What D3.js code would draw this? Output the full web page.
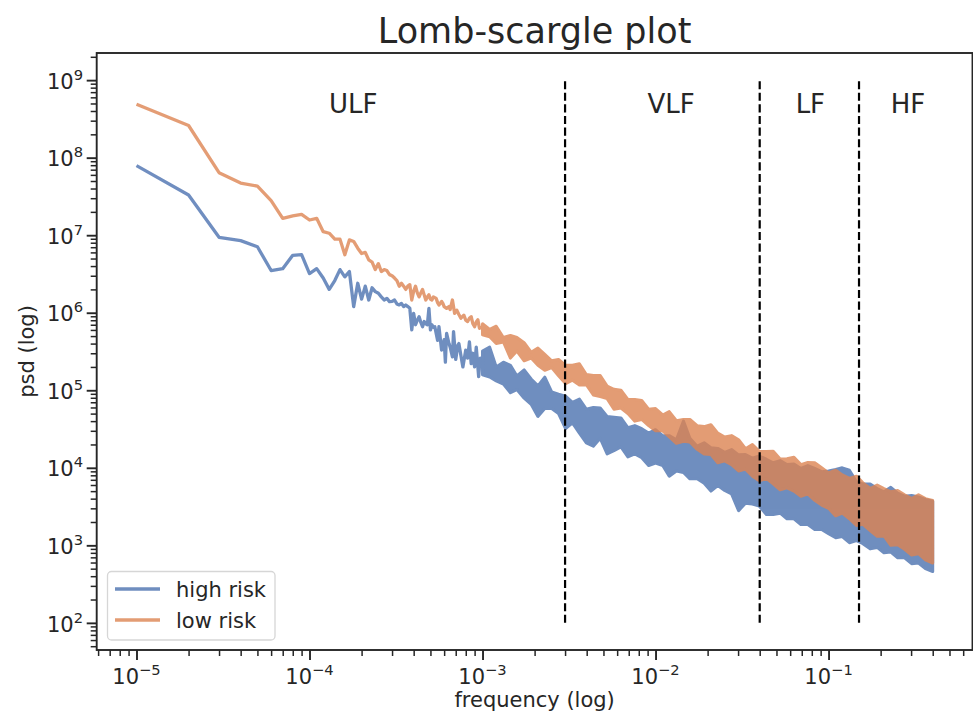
<!DOCTYPE html>
<html><head><meta charset="utf-8">
<script src="https://cdn.jsdelivr.net/npm/d3@7/dist/d3.min.js"></script>
<style>
body{margin:0;background:#fff}
svg{display:block}
text{font-family:"DejaVu Sans",sans-serif;fill:#262626}
</style>
</head><body>
<svg id="c" width="973" height="717"></svg>
<script>
// ---------------- data ----------------
const chartTitle = "Lomb-scargle plot";
const xLabel = "frequency (log)";
const yLabel = "psd (log)";
const seriesNames = ["high risk", "low risk"];
const freqStep = 1e-5; // frequency resolution (Hz per index)

// low-frequency part: individual periodogram points (index k -> k * 1e-5)
const highRiskK = [1,2,3,4,5,6,7,8,9,10,11,12,13,14,15,16,17,18,19,20,21,22,23,24,25,26,27,28,29,30,31,32,33,34,35,36,37,38,39,40,41,42,43,44,45,46,47,48,49,50,51,52,53,55,56,58,60,61,62,64,65,67,68,70,72,73,75,77,80,82,84,86,88,90,92,95,97,99];
const highRiskPsd = [7.9e7,3.3e7,9.4e6,8.5e6,7.1e6,3.5e6,3.7e6,5.5e6,5.6e6,3.2e6,
  3.7e6,2.8e6,2.0e6,2.6e6,3.6e6,2.9e6,3.4e6,1.2e6,2.4e6,1.5e6,
  2.2e6,1.46e6,2.1e6,1.87e6,1.78e6,1.6e6,1.46e6,1.53e6,1.39e6,1.4e6,
  1.46e6,1.3e6,1.26e6,1.32e6,1.2e6,1.26e6,1.2e6,1.14e6,6.0e5,9.8e5,
  7.0e5,8.0e5,8.9e5,7.5e5,6.6e5,7.7e5,7.2e5,7.0e5,1.14e6,6.0e5,
  7.0e5,6.5e5,6.6e5,4.4e5,6.6e5,3.3e5,4.5e5,2.3e5,5.4e5,4.0e5,3.6e5,2.7e5,5.7e5,2.5e5,3.8e5,4.0e5,2.8e5,2.0e5,3.3e5,2.6e5,4.2e5,2.2e5,3.0e5,2.0e5,3.6e5,1.5e5,2.6e5,1.9e5];
const lowRiskK = [1,2,3,4,5,6,7,8,9,10,11,12,13,14,15,16,17,18,19,20,21,22,23,24,25,26,27,28,29,30,31,32,33,34,35,36,37,38,39,40,41,42,43,44,45,46,47,48,49,50,51,52,54,55,56,58,59,60,62,64,65,67,69,71,73,75,78,80,82,84,86,88,90,92,94,96,98];
const lowRiskPsd = [4.9e8,2.6e8,6.4e7,4.7e7,4.3e7,2.8e7,1.65e7,1.77e7,1.86e7,1.57e7,
  1.65e7,1.11e7,1.06e7,8.9e6,8.9e6,5.6e6,8.7e6,8.3e6,6.8e6,5.8e6,
  6.0e6,4.8e6,4.5e6,3.6e6,4.3e6,3.4e6,3.6e6,3.5e6,3.1e6,3.0e6,
  2.8e6,2.6e6,2.2e6,2.4e6,2.2e6,2.0e6,2.2e6,2.3e6,1.46e6,1.9e6,
  2.2e6,1.8e6,1.6e6,1.8e6,2.0e6,1.7e6,1.46e6,1.6e6,1.7e6,1.5e6,
  1.46e6,1.6e6,1.53e6,1.35e6,1.26e6,1.4e6,1.32e6,1.2e6,1.14e6,1.2e6,1.1e6,1.46e6,9.8e5,1.08e6,9.5e5,8.5e5,9.3e5,8.0e5,7.7e5,8.5e5,8.9e5,7.2e5,6.6e5,7.6e5,8.1e5,6.3e5,6.8e5];

// dense part (f >= 1e-3): per-bin max / min of the periodogram
const bandFreq = [0.001,0.0011,0.0012,0.00132,0.00145,0.00158,0.00174,0.00191,0.00209,0.00229,0.00251,0.00275,0.00302,0.00331,0.00363,0.00398,0.00437,0.00479,0.00525,0.00575,0.00631,0.00692,0.00759,0.00832,0.00912,
  0.01,0.011,0.012,0.0132,0.0145,0.0158,0.0174,0.0191,0.0209,0.0229,0.0251,0.0275,0.0302,0.0331,0.0363,0.0398,0.0437,0.0479,0.0525,0.0575,0.0631,0.0692,0.0759,0.0832,0.0912,
  0.1,0.11,0.12,0.132,0.145,0.158,0.174,0.191,0.209,0.229,0.251,0.275,0.302,0.331,0.363,0.4];
const highRiskMax = [3.2e5,3.6e5,2.0e5,2.3e5,2.1e5,1.53e5,1.83e5,1.4e5,1.14e5,1.48e5,9.5e4,8.9e4,8.4e4,7.0e4,7.7e4,5.7e4,6.0e4,5.9e4,4.6e4,4.5e4,4.4e4,3.3e4,3.5e4,3.2e4,2.8e4,
  3.1e4,2.6e4,2.6e4,2.3e4,4.0e4,2.4e4,1.9e4,2.1e4,1.82e4,1.78e4,1.58e4,1.72e4,1.47e4,1.48e4,1.33e4,1.42e4,1.29e4,1.16e4,1.24e4,1.1e4,1.12e4,9.8e3,1.07e4,9.8e3,8.9e3,
  9.1e3,9.5e3,1.0e4,9.3e3,6.6e3,6.2e3,6.2e3,5.4e3,4.9e3,5.6e3,4.7e3,4.3e3,4.4e3,4.2e3,3.9e3,3.7e3];
const highRiskMin = [1.58e5,1.48e5,1.32e5,1.2e5,9.3e4,1.02e5,7.9e4,6.6e4,4.6e4,5.8e4,5.8e4,5.0e4,3.2e4,3.8e4,2.8e4,2.1e4,1.9e4,2.4e4,1.51e4,1.66e4,1.86e4,1.38e4,1.51e4,1.35e4,1.07e4,
  1.15e4,1.07e4,7.8e3,9.1e3,8.7e3,7.2e3,7.2e3,6.3e3,5.0e3,5.9e3,5.1e3,4.6e3,2.8e3,3.5e3,3.4e3,3.2e3,2.5e3,2.5e3,2.6e3,2.2e3,2.2e3,1.85e3,1.85e3,1.6e3,1.6e3,
  1.41e3,1.25e3,1.3e3,1.08e3,1.15e3,1.05e3,9.0e2,9.4e2,8.0e2,8.2e2,6.9e2,6.9e2,5.8e2,5.9e2,5.0e2,4.6e2];
const lowRiskMax = [7.2e5,6.1e5,6.7e5,4.8e5,5.1e5,4.8e5,4.1e5,3.1e5,3.5e5,2.9e5,2.4e5,2.5e5,2.1e5,2.1e5,2.2e5,1.6e5,1.55e5,1.55e5,1.13e5,1.03e5,1.0e5,7.6e4,7.6e4,7.4e4,5.7e4,
  5.8e4,4.8e4,5.3e4,4.05e4,4.2e4,4.2e4,3.5e4,3.4e4,3.6e4,2.8e4,2.5e4,2.6e4,2.3e4,1.76e4,2.0e4,1.63e4,1.62e4,1.63e4,1.3e4,1.31e4,1.37e4,1.1e4,1.17e4,1.16e4,1.0e4,
  8.6e3,9.3e3,8.1e3,7.3e3,7.8e3,6.4e3,5.4e3,6.0e3,5.4e3,4.9e3,5.1e3,4.5e3,4.0e3,4.5e3,4.0e3,3.8e3];
const lowRiskMin = [5.2e5,4.9e5,4.0e5,4.2e5,2.6e5,3.2e5,2.4e5,2.6e5,2.1e5,1.81e5,1.96e5,1.54e5,1.22e5,1.35e5,1.17e5,1.18e5,8.7e4,8.3e4,7.8e4,5.7e4,5.9e4,5.0e4,4.0e4,4.2e4,3.5e4,
  3.0e4,3.0e4,2.5e4,2.07e4,2.2e4,2.15e4,1.73e4,1.51e4,1.48e4,1.16e4,1.23e4,1.1e4,9.1e3,9.6e3,7.8e3,6.8e3,7.3e3,6.2e3,5.2e3,5.5e3,5.0e3,4.3e3,4.6e3,3.8e3,3.3e3,
  3.0e3,2.4e3,2.6e3,2.2e3,1.8e3,1.87e3,1.55e3,1.31e3,1.32e3,1.0e3,1.02e3,8.9e2,7.5e2,7.8e2,6.5e2,5.9e2];

// frequency band boundaries and labels
const bandEdges = [0.003, 0.04, 0.15];
const bandLineRange = [1e2, 1e9];
const bandNames = ["ULF", "VLF", "LF", "HF"];
const bandLabelFreq = [1.79e-4, 0.0123, 0.0785, 0.288];
const bandLabelPsd = 3.8e8;

const xMajor = [1e-5, 1e-4, 1e-3, 1e-2, 1e-1];
const xMajorExp = ["−5", "−4", "−3", "−2", "−1"];
const yMajor = [1e2, 1e3, 1e4, 1e5, 1e6, 1e7, 1e8, 1e9];
const yMajorExp = ["2", "3", "4", "5", "6", "7", "8", "9"];

const colors = ["#4C72B0", "#DD8452"];

// ---------------- drawing ----------------
const L = 96.7, R = 972.5, T = 53, B = 650;
const svg = d3.select("#c");
const x = d3.scaleLog().domain([Math.pow(10, -5.23), Math.pow(10, -0.168)]).range([L, R]);
const y = d3.scaleLog().domain([Math.pow(10, 1.65), Math.pow(10, 9.35)]).range([B, T]);

svg.append("defs").append("clipPath").attr("id", "clip")
  .append("rect").attr("x", L).attr("y", T).attr("width", R - L).attr("height", B - T);

const plot = svg.append("g").attr("clip-path", "url(#clip)");

function drawSeries(ks, psd, fb, vmax, vmin, color) {
  const g = plot.append("g").attr("opacity", 0.8);
  const pts = ks.map((k, i) => [k * freqStep, psd[i]]);
  const line = d3.line().x(d => x(d[0])).y(d => y(d[1]));
  g.append("path").attr("d", line(pts))
    .attr("fill", "none").attr("stroke", color).attr("stroke-width", 3.3)
    .attr("stroke-linejoin", "round");
  const band = fb.map((f, i) => ({f, hi: vmax[i], lo: vmin[i]}));
  const area = d3.area().x(d => x(d.f)).y0(d => y(d.lo)).y1(d => y(d.hi));
  g.append("path").attr("d", area(band))
    .attr("fill", color).attr("stroke", color).attr("stroke-width", 3)
    .attr("stroke-linejoin", "round");
}
drawSeries(highRiskK, highRiskPsd, bandFreq, highRiskMax, highRiskMin, colors[0]);
drawSeries(lowRiskK, lowRiskPsd, bandFreq, lowRiskMax, lowRiskMin, colors[1]);

// band boundary lines
svg.append("g").selectAll("line").data(bandEdges).join("line")
  .attr("x1", d => x(d)).attr("x2", d => x(d))
  .attr("y1", y(bandLineRange[0])).attr("y2", y(bandLineRange[1]))
  .attr("stroke", "#000").attr("stroke-width", 2.2)
  .attr("stroke-dasharray", "8.1,3.5");

// band labels
svg.append("g").selectAll("text").data(bandNames).join("text")
  .attr("x", (d, i) => x(bandLabelFreq[i])).attr("y", y(bandLabelPsd))
  .attr("text-anchor", "middle").attr("font-size", 26).text(d => d);

// minor ticks
function minors(domain) {
  const out = [];
  const lo = Math.floor(Math.log10(domain[0])), hi = Math.ceil(Math.log10(domain[1]));
  for (let e = lo; e <= hi; e++) for (let m = 2; m <= 9; m++) {
    const v = m * Math.pow(10, e);
    if (v >= domain[0] && v <= domain[1]) out.push(v);
  }
  return out;
}
const tickColor = "#262626";
const gx = svg.append("g").attr("transform", `translate(0,${B})`);
gx.call(d3.axisBottom(x).tickValues(xMajor).tickSize(10).tickSizeOuter(0).tickFormat(""));
gx.call(g => g.selectAll("line").attr("stroke", tickColor).attr("stroke-width", 1.9));
const gxm = svg.append("g").attr("transform", `translate(0,${B})`);
gxm.call(d3.axisBottom(x).tickValues(minors(x.domain())).tickSize(6).tickSizeOuter(0).tickFormat(""));
gxm.call(g => g.selectAll("line").attr("stroke", tickColor).attr("stroke-width", 1.5));
const gy = svg.append("g").attr("transform", `translate(${L},0)`);
gy.call(d3.axisLeft(y).tickValues(yMajor).tickSize(10).tickSizeOuter(0).tickFormat(""));
gy.call(g => g.selectAll("line").attr("stroke", tickColor).attr("stroke-width", 1.9));
const gym = svg.append("g").attr("transform", `translate(${L},0)`);
gym.call(d3.axisLeft(y).tickValues(minors(y.domain())).tickSize(6).tickSizeOuter(0).tickFormat(""));
gym.call(g => g.selectAll("line").attr("stroke", tickColor).attr("stroke-width", 1.5));
svg.selectAll(".domain").remove();

// tick labels
const xl = svg.append("g").selectAll("text").data(xMajor).join("text")
  .attr("x", d => x(d)).attr("y", 684).attr("text-anchor", "middle").attr("font-size", 21);
xl.append("tspan").text("10");
xl.append("tspan").attr("dy", -9).attr("font-size", 14.7).text((d, i) => xMajorExp[i]);
const yl = svg.append("g").selectAll("text").data(yMajor).join("text")
  .attr("x", 83).attr("y", d => y(d) + 8.7).attr("text-anchor", "end").attr("font-size", 21);
yl.append("tspan").text("10");
yl.append("tspan").attr("dy", -9).attr("font-size", 14.7).text((d, i) => yMajorExp[i]);

// frame
svg.append("rect").attr("x", L).attr("y", T).attr("width", R - L).attr("height", B - T)
  .attr("fill", "none").attr("stroke", "#262626").attr("stroke-width", 1.9);

// titles
svg.append("text").attr("x", (L + R) / 2).attr("y", 43).attr("text-anchor", "middle")
  .attr("font-size", 35).text(chartTitle);
svg.append("text").attr("x", (L + R) / 2).attr("y", 707).attr("text-anchor", "middle")
  .attr("font-size", 21).text(xLabel);
svg.append("text").attr("transform", `translate(34,${(T + B) / 2}) rotate(-90)`)
  .attr("text-anchor", "middle").attr("font-size", 21).text(yLabel);

// legend
const lg = svg.append("g");
lg.append("rect").attr("x", 107.5).attr("y", 571.5).attr("width", 167.5).attr("height", 68.5)
  .attr("rx", 4).attr("fill", "#fff").attr("fill-opacity", 0.8)
  .attr("stroke", "#d6d6d6").attr("stroke-width", 1.3);
seriesNames.forEach((name, i) => {
  const yy = 589 + i * 31;
  lg.append("line").attr("x1", 115).attr("x2", 160).attr("y1", yy).attr("y2", yy)
    .attr("stroke", colors[i]).attr("stroke-width", 3.3).attr("opacity", 0.8);
  lg.append("text").attr("x", 176).attr("y", yy + 7.5).attr("font-size", 21).text(name);
});
</script>
</body></html>
